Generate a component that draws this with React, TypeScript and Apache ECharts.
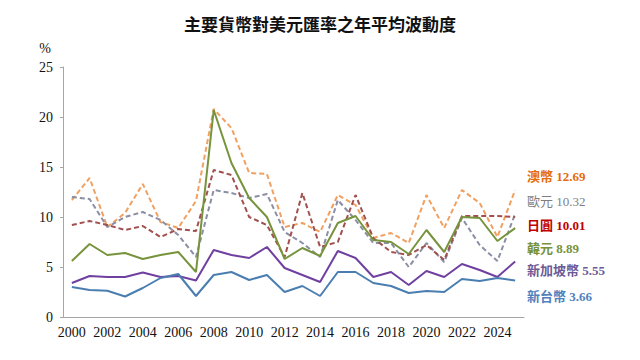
import React, { useEffect, useRef } from "react";
import * as echarts from "echarts";

const years = Array.from({ length: 26 }, (_, i) => String(2000 + i));

const aud = [11.7, 13.9, 9.0, 10.4, 13.3, 9.5, 8.9, 11.6, 20.8, 18.9, 14.4, 14.3, 9.0, 9.4, 8.5, 12.2, 11.2, 7.9, 8.4, 7.4, 12.2, 8.9, 12.7, 11.4, 8.0, 12.69];
const eur = [12.0, 11.8, 9.0, 10.0, 10.5, 9.7, 8.2, 6.0, 12.7, 12.4, 11.9, 12.3, 8.5, 7.4, 6.0, 11.7, 9.7, 7.4, 7.4, 5.0, 7.4, 5.5, 9.9, 7.2, 5.6, 10.32];
const jpy = [9.2, 9.6, 9.2, 8.7, 9.1, 8.0, 8.8, 8.6, 14.7, 14.2, 10.0, 9.2, 6.0, 12.4, 7.0, 7.5, 12.2, 7.9, 6.5, 6.2, 7.2, 5.7, 10.1, 10.1, 10.1, 10.01];
const krw = [5.6, 7.3, 6.2, 6.4, 5.8, 6.2, 6.5, 4.5, 20.7, 15.4, 11.9, 10.0, 5.8, 6.9, 6.1, 9.4, 10.1, 7.7, 7.5, 6.3, 8.7, 6.5, 10.0, 9.9, 7.6, 8.89];
const sgd = [3.4, 4.1, 4.0, 4.0, 4.45, 4.0, 4.1, 3.65, 6.7, 6.2, 5.9, 7.0, 4.9, 4.2, 3.5, 6.6, 5.9, 4.0, 4.5, 3.2, 4.6, 4.0, 5.3, 4.7, 4.0, 5.55];
const twd = [3.0, 2.7, 2.63, 2.05, 2.9, 3.9, 4.3, 2.1, 4.2, 4.5, 3.7, 4.2, 2.5, 3.1, 2.1, 4.5, 4.5, 3.4, 3.1, 2.4, 2.6, 2.5, 3.8, 3.6, 3.9, 3.66];

const endLabels = [
  { text: "澳幣 12.69", color: "#E46C0A", bold: true, y: 178 },
  { text: "歐元 10.32", color: "#7F7F7F", bold: false, y: 203 },
  { text: "日圓 10.01", color: "#C00000", bold: true, y: 227 },
  { text: "韓元 8.89", color: "#77933C", bold: true, y: 250 },
  { text: "新加坡幣 5.55", color: "#6B5A96", bold: true, y: 272 },
  { text: "新台幣 3.66", color: "#4F81BD", bold: true, y: 298 },
];

const serif = "Liberation Serif, Times New Roman, Noto Sans CJK TC, serif";

export default function App() {
  const ref = useRef<HTMLDivElement>(null);
  useEffect(() => {
    if (!ref.current) return;
    const chart = echarts.init(ref.current, null, { renderer: "svg" });
    const line = (name: string, data: number[], color: string, dashed: boolean, width = 2) => ({
      name,
      type: "line",
      data,
      symbol: "none",
      lineStyle: { color, width, type: dashed ? [5, 3] : "solid" },
      itemStyle: { color },
      z: dashed ? 2 : 3,
    });
    chart.setOption({
      animation: false,
      backgroundColor: "#ffffff",
      title: {
        text: "主要貨幣對美元匯率之年平均波動度",
        left: "center",
        top: 10,
        textStyle: { fontFamily: "Noto Sans CJK TC, serif", fontSize: 17, fontWeight: "bold", color: "#111" },
      },
      grid: { left: 63, right: 116, top: 67, bottom: 43 },
      xAxis: {
        type: "category",
        data: years,
        boundaryGap: true,
        axisLine: { lineStyle: { color: "#A6A6A6" } },
        axisTick: { inside: true, length: 3, lineStyle: { color: "#A6A6A6" } },
        axisLabel: { interval: 1, color: "#111", fontFamily: serif, fontSize: 14, margin: 8 },
      },
      yAxis: {
        type: "value",
        min: 0,
        max: 25,
        interval: 5,
        name: "%",
        nameLocation: "end",
        nameGap: 12,
        nameTextStyle: { color: "#111", fontFamily: serif, fontSize: 14, align: "right", padding: [0, 12, 0, 0] },
        splitLine: { show: false },
        axisLine: { show: true, lineStyle: { color: "#A6A6A6" } },
        axisTick: { show: true, length: 3, lineStyle: { color: "#A6A6A6" } },
        axisLabel: { color: "#111", fontFamily: serif, fontSize: 14, margin: 10 },
      },
      series: [
        line("澳幣", aud, "#F0A060", true),
        line("歐元", eur, "#8A8FA3", true),
        line("日圓", jpy, "#A0504E", true),
        line("韓元", krw, "#77933C", false),
        line("新加坡幣", sgd, "#7040A0", false),
        line("新台幣", twd, "#4A7EB0", false),
      ],
      graphic: endLabels.map((l) => ({
        type: "text",
        left: 527,
        top: l.y - 8,
        style: {
          text: l.text,
          fill: l.color,
          fontFamily: serif,
          fontSize: 13,
          fontWeight: l.bold ? "bold" : "normal",
        },
      })),
    });
    return () => chart.dispose();
  }, []);
  return <div ref={ref} style={{ width: 640, height: 360, position: "fixed", left: 0, top: 0 }} />;
}
